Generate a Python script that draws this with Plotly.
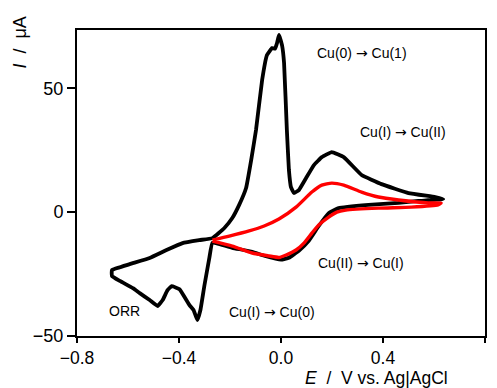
import plotly.graph_objects as go

# Black CV (Cu system incl. Cu(0) deposition), starting at negative vertex, anodic sweep first
black_E = [-0.663, -0.593, -0.515, -0.449, -0.386, -0.320, -0.269, -0.222, -0.191, -0.164,
           -0.137, -0.117, -0.098, -0.074, -0.055, -0.035, -0.023, -0.015, -0.008, 0.004,
           0.012, 0.023, 0.031, 0.039, 0.051, 0.070, 0.098, 0.129, 0.160, 0.199,
           0.246, 0.316, 0.394, 0.500, 0.605, 0.636,
           0.539, 0.461, 0.343, 0.226, 0.187, 0.148, 0.109, 0.070, 0.031, 0.000,
           -0.066, -0.113, -0.191, -0.269, -0.281, -0.300, -0.316, -0.328, -0.343, -0.359,
           -0.398, -0.429, -0.445, -0.464, -0.484, -0.515, -0.554, -0.581, -0.632, -0.663, -0.663]
black_I = [-23.4, -21.0, -18.5, -15.3, -12.5, -11.3, -10.5, -6.4, -2.4, 2.9,
           9.7, 21.0, 33.1, 53.3, 63.4, 66.2, 66.0, 68.5, 71.5, 67.4,
           60.2, 33.1, 17.0, 10.1, 7.7, 8.9, 13.7, 19.0, 22.2, 24.2,
           22.2, 15.0, 11.3, 7.7, 6.1, 5.3,
           4.5, 3.7, 2.9, 1.6, -0.4, -5.6, -11.6, -15.6, -18.4, -19.2,
           -17.6, -16.0, -14.4, -12.4, -18.5, -29.4, -39.5, -43.6, -39.5, -37.5,
           -31.1, -29.9, -31.5, -35.5, -37.9, -35.5, -32.7, -30.7, -27.8, -25.8, -23.4]

# Red CV (Cu(II)/Cu(I) only), starting at negative vertex
red_E = [-0.269, -0.203, -0.125, -0.066, -0.008, 0.059, 0.121, 0.160, 0.199, 0.246,
         0.316, 0.382, 0.461, 0.578, 0.628,
         0.616, 0.511, 0.382, 0.254, 0.219, 0.187, 0.148, 0.121, 0.090, 0.059,
         0.020, -0.008, -0.047, -0.113, -0.191, -0.269]
red_I = [-11.3, -9.7, -7.6, -5.6, -2.8, 2.0, 8.1, 10.9, 11.7, 10.9,
         8.1, 6.1, 4.9, 3.7, 3.7,
         2.9, 2.0, 1.6, 0.8, 0.0, -2.0, -5.2, -8.5, -12.5, -15.3,
         -17.3, -18.3, -17.7, -16.5, -13.7, -11.7]

x_ticks = [-0.8, -0.4, 0.0, 0.4, 0.8]
y_ticks = [-50, 0, 50]

ARROW = " <span style=\"font-family:DejaVu Sans\">\u2192</span> "
labels = ["Cu(0)" + ARROW + "Cu(1)", "Cu(I)" + ARROW + "Cu(II)", "Cu(II)" + ARROW + "Cu(I)",
          "Cu(I)" + ARROW + "Cu(0)", "ORR"]
label_E = [0.316, 0.480, 0.312, -0.035, -0.613]
label_I = [64.2, 32.3, -20.6, -40.3, -39.9]

FONT = "Liberation Sans, Arial, sans-serif"

fig = go.Figure()
fig.add_trace(go.Scatter(x=black_E, y=black_I, mode="lines",
                         line=dict(color="black", width=3.8, shape="spline", smoothing=0.3),
                         showlegend=False))
fig.add_trace(go.Scatter(x=red_E, y=red_I, mode="lines",
                         line=dict(color="#ff0000", width=3.4, shape="spline", smoothing=0.5),
                         showlegend=False))

for t, xe, yi in zip(labels, label_E, label_I):
    fig.add_annotation(x=xe, y=yi, text=t, showarrow=False,
                       font=dict(family=FONT, size=14, color="black"))

# page body has an 8px default margin; the figure is sized/offset to compensate
fig.add_annotation(xref="paper", yref="paper", x=-0.14, y=1.05, xanchor="center", yanchor="top",
                   text="<i>I</i>  /  \u03bcA", textangle=-90, showarrow=False,
                   font=dict(family=FONT, size=18, color="black"))
fig.add_annotation(xref="paper", yref="paper", x=0.735, y=-0.1, xanchor="center", yanchor="top",
                   text="<i>E</i>  /  V vs. Ag|AgCl", showarrow=False, borderpad=0,
                   font=dict(family=FONT, size=17.5, color="black"))

fig.update_layout(
    width=489, height=380,
    margin=dict(l=69, r=10, t=22, b=52),
    paper_bgcolor="white", plot_bgcolor="white",
    font=dict(family=FONT, size=18, color="black"),
    xaxis=dict(range=[-0.8, 0.8], tickvals=x_ticks, ticktext=["\u22120.8", "\u22120.4", "0.0", "0.4", "0.8"],
               tickfont=dict(size=17.5),
               showgrid=False, zeroline=False, showline=True, linecolor="black", linewidth=2,
               mirror=True, ticks="outside", ticklen=5, tickwidth=2, tickcolor="black"),
    yaxis=dict(range=[-50, 73.5], tickvals=y_ticks, ticktext=["\u221250", "0", "50"],
               showgrid=False, zeroline=False, showline=True, linecolor="black", linewidth=2,
               mirror=True, ticks="outside", ticklen=8, tickwidth=2, tickcolor="black"),
)

fig.write_html("out.html")
